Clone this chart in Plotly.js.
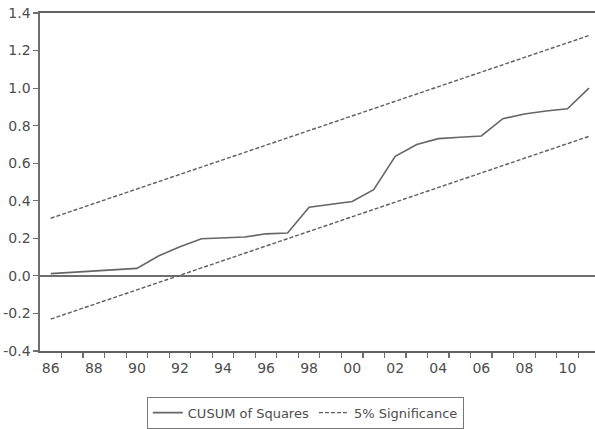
<!DOCTYPE html>
<html>
<head>
<meta charset="utf-8">
<script src="https://cdn.plot.ly/plotly-3.0.1.min.js"></script>
<style>html,body{margin:0;padding:0;background:#fff;}#chart{width:595px;height:429px;}</style>
</head>
<body>
<div id="chart"></div>
<script>
const years = [1986,1987,1988,1989,1990,1991,1992,1993,1994,1995,1996,1997,1998,1999,2000,2001,2002,2003,2004,2005,2006,2007,2008,2009,2010,2011];
const cusumSq = [0.012,0.018,0.024,0.030,0.040,0.106,0.155,0.198,0.202,0.207,0.224,0.228,0.366,0.380,0.396,0.459,0.637,0.700,0.731,0.738,0.745,0.837,0.862,0.878,0.890,1.000];
const upper5 = [0.307,0.346,0.385,0.424,0.463,0.502,0.540,0.579,0.618,0.657,0.696,0.735,0.774,0.813,0.852,0.891,0.929,0.968,1.007,1.046,1.085,1.124,1.163,1.202,1.241,1.280];
const lower5 = [-0.230,-0.191,-0.152,-0.113,-0.074,-0.035,0.003,0.042,0.081,0.120,0.159,0.198,0.237,0.276,0.315,0.354,0.392,0.431,0.470,0.509,0.548,0.587,0.626,0.665,0.704,0.743];
const xLabelYears = [1986,1988,1990,1992,1994,1996,1998,2000,2002,2004,2006,2008,2010];
const xLabels = ['86','88','90','92','94','96','98','00','02','04','06','08','10'];
const xTickBounds = [1986.5,1987.5,1988.5,1989.5,1990.5,1991.5,1992.5,1993.5,1994.5,1995.5,1996.5,1997.5,1998.5,1999.5,2000.5,2001.5,2002.5,2003.5,2004.5,2005.5,2006.5,2007.5,2008.5,2009.5,2010.5];
const yTickVals = [-0.4,-0.2,0.0,0.2,0.4,0.6,0.8,1.0,1.2,1.4];
const yTickText = ['-0.4','-0.2','0.0','0.2','0.4','0.6','0.8','1.0','1.2','1.4'];

const lineCol = '#666666';
const textCol = '#4d4d4d';
const xRange = [1985.5, 2011.28];

const traces = [
  {x: years, y: cusumSq, type: 'scatter', mode: 'lines', name: 'CUSUM of Squares',
   line: {color: lineCol, width: 1.6}},
  {x: years, y: upper5, type: 'scatter', mode: 'lines', name: '5% Significance',
   line: {color: '#5e5e5e', width: 1.4, dash: '4px,2px'}},
  {x: years, y: lower5, type: 'scatter', mode: 'lines', name: '5% Significance', showlegend: false,
   line: {color: '#5e5e5e', width: 1.4, dash: '4px,2px'}},
  {x: [xRange[0]], y: [null], xaxis: 'x2', yaxis: 'y', type: 'scatter', mode: 'lines', showlegend: false, hoverinfo: 'skip'}
];

const layout = {
  width: 595, height: 429,
  margin: {l: 40, r: 0, t: 13, b: 76},
  paper_bgcolor: '#ffffff', plot_bgcolor: '#ffffff',
  font: {family: 'DejaVu Sans, sans-serif', size: 13, color: textCol},
  showlegend: true,
  legend: {orientation: 'h', x: 0.478, xanchor: 'center', y: -0.135, yanchor: 'top',
    bordercolor: '#777777', borderwidth: 1, bgcolor: '#ffffff',
    font: {family: 'DejaVu Sans, sans-serif', size: 13, color: textCol},
    itemwidth: 30, tracegroupgap: 0},
  xaxis: {range: xRange, showgrid: false, zeroline: false, showline: true, mirror: true,
    linecolor: '#626262', linewidth: 1.7,
    tickmode: 'array', tickvals: xTickBounds, ticktext: xTickBounds.map(() => ''),
    ticks: 'outside', ticklen: 5, tickwidth: 1.2, tickcolor: '#6f6f6f', showticklabels: false},
  xaxis2: {range: xRange, overlaying: 'x', anchor: 'y', side: 'bottom',
    showgrid: false, zeroline: false, showline: false, ticks: '',
    tickmode: 'array', tickvals: xLabelYears, ticktext: xLabels,
    ticklabelstandoff: 7,
    tickfont: {family: 'DejaVu Sans, sans-serif', size: 14, color: textCol}},
  yaxis: {range: [-0.4, 1.4], showgrid: false, zeroline: true, zerolinecolor: '#6f6f6f', zerolinewidth: 1.5,
    showline: true, linecolor: '#6f6f6f', linewidth: 1.6,
    tickmode: 'array', tickvals: yTickVals, ticktext: yTickText,
    ticks: 'outside', ticklen: 5, tickwidth: 1.2, tickcolor: '#6f6f6f',
    tickfont: {family: 'DejaVu Sans, sans-serif', size: 14, color: textCol}}
};

Plotly.newPlot('chart', traces, layout, {displayModeBar: false, staticPlot: true});
</script>
</body>
</html>
